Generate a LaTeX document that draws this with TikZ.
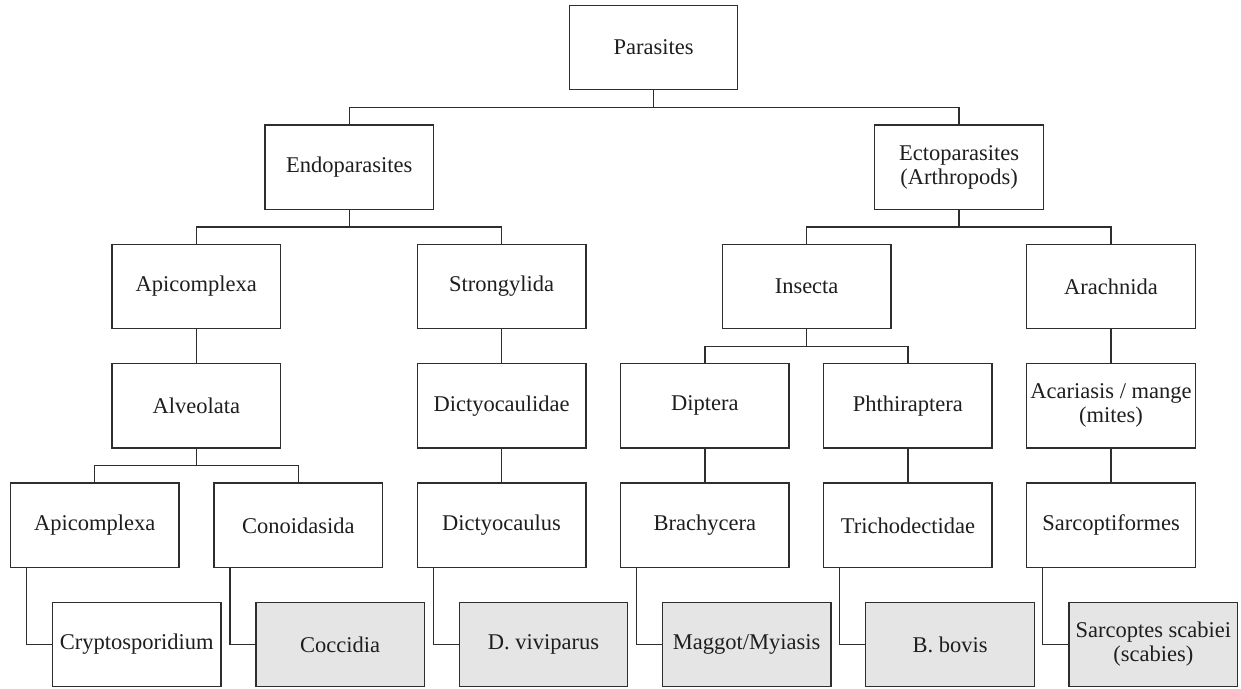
\documentclass[tikz,border=0pt]{standalone}
\usepackage{fontspec}
\setmainfont{Liberation Serif}
\definecolor{linec}{HTML}{2E2E2E}
\definecolor{shade}{HTML}{E5E5E5}
\definecolor{txt}{HTML}{1E1E1E}
\begin{document}
\begin{tikzpicture}[x=1pt,y=-1pt,
  box/.style={draw=linec, line width=1.4pt, fill=white, minimum width=168.5pt, minimum height=84.5pt,
    inner sep=0pt, align=center, text=txt, font=\fontsize{22.5}{24}\selectfont},
  leaf/.style={box, fill=shade},
  conn/.style={draw=linec, line width=1.4pt}]
\useasboundingbox (0,0) rectangle (1241,688);
% level 1-2
\node[box] (par) at (653.5,47.5) {Parasites};
\node[box] (endo) at (349.2,167.3) {Endoparasites};
\node[box] (ecto) at (959,167.3) {Ectoparasites\\(Arthropods)};
% level 3
\node[box] (api3) at (196.3,286.5) {Apicomplexa};
\node[box] (stro) at (501.6,286.5) {Strongylida};
\node[box] (ins) at (806.6,286.5) {Insecta};
\node[box] (ara) at (1111,286.5) {Arachnida};
% level 4
\node[box] (alv) at (196.3,405.8) {Alveolata};
\node[box] (dicd) at (501.6,405.8) {Dictyocaulidae};
\node[box] (dip) at (704.8,405.8) {Diptera};
\node[box] (pht) at (907.9,405.8) {Phthiraptera};
\node[box] (aca) at (1111,405.8) {Acariasis / mange\\(mites)};
% level 5
\node[box] (api5) at (94.7,525.3) {Apicomplexa};
\node[box] (con) at (298.3,525.3) {Conoidasida};
\node[box] (dicl) at (501.6,525.3) {Dictyocaulus};
\node[box] (bra) at (704.8,525.3) {Brachycera};
\node[box] (tri) at (907.9,525.3) {Trichodectidae};
\node[box] (sar) at (1111,525.3) {Sarcoptiformes};
% level 6
\node[box] (cry) at (136.8,644.5) {Cryptosporidium};
\node[leaf] (coc) at (340.2,644.5) {Coccidia};
\node[leaf] (dvi) at (543.5,644.5) {D. viviparus};
\node[leaf] (mag) at (746.7,644.5) {Maggot/Myiasis};
\node[leaf] (bbo) at (950,644.5) {B. bovis};
\node[leaf] (sca) at (1153.4,644.5) {Sarcoptes scabiei\\(scabies)};
% bus coordinates
\coordinate (bus1) at (653.5,107.7);
\coordinate (bus2) at (349.2,227);
\coordinate (bus3) at (959,227);
\coordinate (bus4) at (806.6,346.6);
\coordinate (bus5) at (196.3,465.7);
% connectors
\draw[conn] (par.south) -- (bus1);
\draw[conn] (endo.north) |- (bus1) -| (ecto.north);
\draw[conn] (endo.south) -- (bus2);
\draw[conn] (api3.north) |- (bus2) -| (stro.north);
\draw[conn] (ecto.south) -- (bus3);
\draw[conn] (ins.north) |- (bus3) -| (ara.north);
\draw[conn] (api3) -- (alv);
\draw[conn] (stro) -- (dicd);
\draw[conn] (ara) -- (aca);
\draw[conn] (ins.south) -- (bus4);
\draw[conn] (dip.north) |- (bus4) -| (pht.north);
\draw[conn] (alv.south) -- (bus5);
\draw[conn] (api5.north) |- (bus5) -| (con.north);
\draw[conn] (dicd) -- (dicl);
\draw[conn] (dip) -- (bra);
\draw[conn] (pht) -- (tri);
\draw[conn] (aca) -- (sar);
\draw[conn] ([xshift=16.6pt]api5.south west) |- (cry.west);
\draw[conn] ([xshift=16.6pt]con.south west) |- (coc.west);
\draw[conn] ([xshift=16.6pt]dicl.south west) |- (dvi.west);
\draw[conn] ([xshift=16.6pt]bra.south west) |- (mag.west);
\draw[conn] ([xshift=16.6pt]tri.south west) |- (bbo.west);
\draw[conn] ([xshift=16.6pt]sar.south west) |- (sca.west);
\end{tikzpicture}
\end{document}
